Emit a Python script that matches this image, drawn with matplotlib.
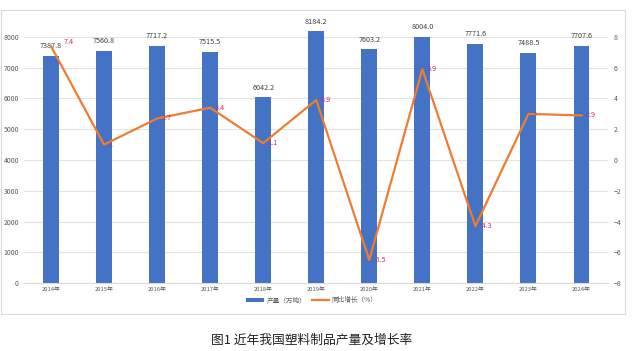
import numpy as np
import matplotlib
matplotlib.use("Agg")
import matplotlib.pyplot as plt
from matplotlib.patches import Rectangle

plt.rcParams['font.family'] = ['Noto Sans CJK SC', 'DejaVu Sans']

# 数据
years = ['2014年', '2015年', '2016年', '2017年', '2018年', '2019年',
         '2020年', '2021年', '2022年', '2023年', '2024年']
output = [7387.8, 7560.8, 7717.2, 7515.5, 6042.2, 8184.2,
          7603.2, 8004.0, 7771.6, 7488.5, 7707.6]
growth = [7.4, 1, 2.7, 3.4, 1.1, 3.9, -6.5, 5.9, -4.3, 3, 2.9]
growth_labels = ['7.4', '1', '2.7', '3.4', '1.1', '3.9', '-6.5', '5.9', '-4.3', '3', '2.9']

bar_color = '#4472C4'
line_color = '#ED7D31'
tick_color = '#595959'

fig = plt.figure(figsize=(6.34, 3.51), dpi=100)

# 图表外框
fig.patches.append(Rectangle((0.002, 0.105), 0.984, 0.867, transform=fig.transFigure,
                             fill=False, edgecolor='#D9D9D9', linewidth=0.8))

ax1 = fig.add_axes([0.0386, 0.1937, 0.9204, 0.7009])
x = np.arange(len(years))

bars = ax1.bar(x, output, width=0.3, color=bar_color, zorder=2, label='产量（万吨）',
               clip_on=False)
ax1.set_xlim(-0.5, len(years) - 0.5)
ax1.set_ylim(0, 8000)
ax1.set_yticks(np.arange(0, 8001, 1000))
ax1.grid(axis='y', color='#E3E3E3', linewidth=0.8, zorder=0)
ax1.set_axisbelow(True)
for s in ['top', 'right', 'left']:
    ax1.spines[s].set_visible(False)
ax1.spines['bottom'].set_color('#D9D9D9')
ax1.spines['bottom'].set_linewidth(0.8)
ax1.set_xticks(x)
ax1.set_xticklabels(years)
ax1.tick_params(axis='x', length=0, labelsize=4.2, colors=tick_color, pad=3)
ax1.tick_params(axis='y', length=0, labelsize=5, colors=tick_color, pad=4)

for xi, v in zip(x, output):
    ax1.annotate(f'{v:.1f}', (xi, v), xytext=(0, 4), textcoords='offset points',
                 ha='center', va='bottom', fontsize=5.2, color='#404040',
                 annotation_clip=False)

ax2 = ax1.twinx()
ax2.plot(x, growth, color=line_color, linewidth=1.6, zorder=3, label='同比增长（%）')
ax2.set_ylim(-8, 8)
ax2.set_yticks(np.arange(-8, 9, 2))
for s in ['top', 'right', 'left', 'bottom']:
    ax2.spines[s].set_visible(False)
ax2.tick_params(axis='y', length=0, labelsize=5, colors=tick_color, pad=4)

for i, (xi, v, t) in enumerate(zip(x, growth, growth_labels)):
    off = (9, 3) if i == 0 else (3, 0)
    ax2.annotate(t, (xi, v), xytext=off, textcoords='offset points',
                 ha='left', va='center', fontsize=5.2, color='#C8326E')

# 图例
h1, l1 = ax1.get_legend_handles_labels()
h2, l2 = ax2.get_legend_handles_labels()
fig.legend(h1 + h2, l1 + l2, loc='center', bbox_to_anchor=(0.492, 0.145),
           ncol=2, frameon=False, fontsize=4.8, labelcolor=tick_color,
           handlelength=2.6, handleheight=0.6, columnspacing=0.8, handletextpad=0.4)

fig.text(0.492, 0.03, '图1 近年我国塑料制品产量及增长率', ha='center', va='center',
         fontsize=9.2, color='#222222')

fig.savefig('out.png', dpi=100)
